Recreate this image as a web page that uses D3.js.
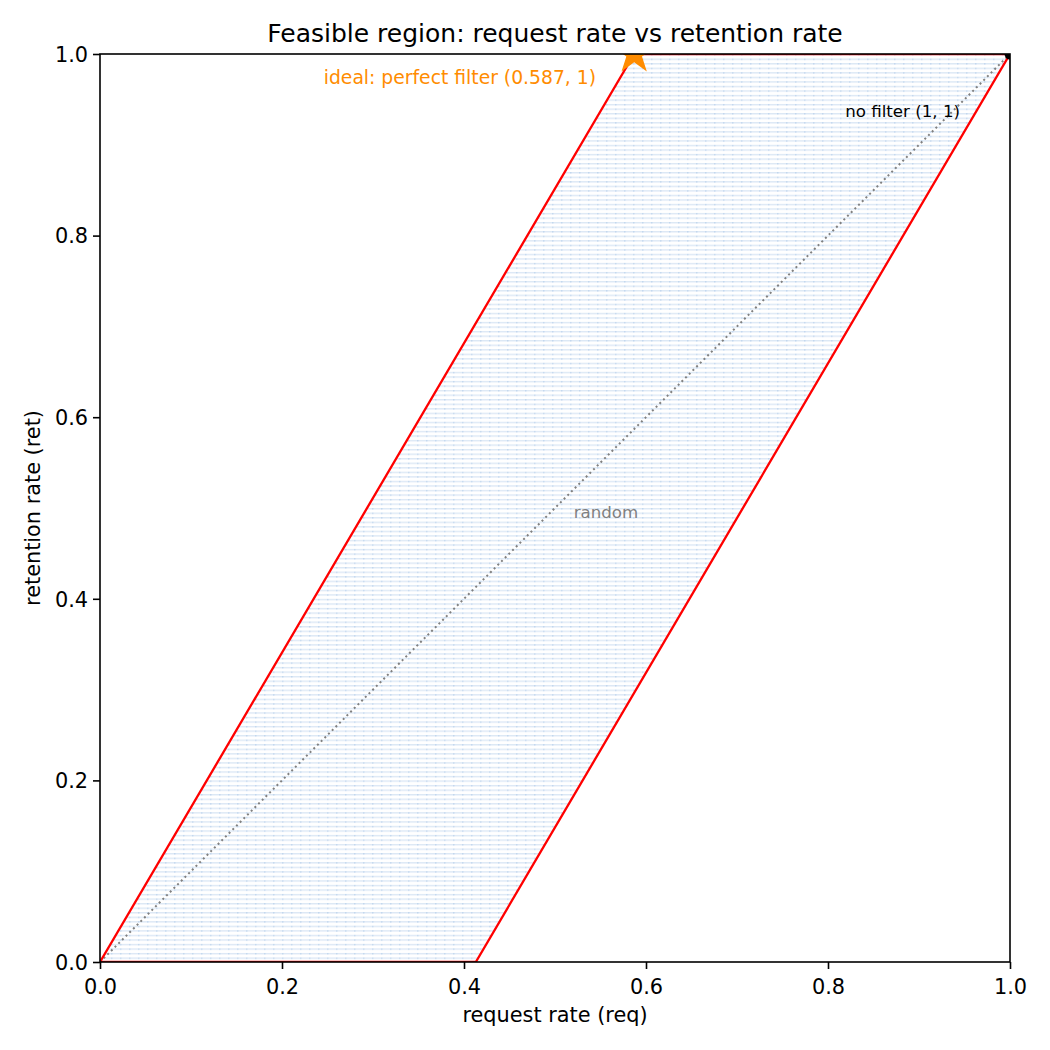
<!DOCTYPE html>
<html>
<head>
<meta charset="utf-8">
<script src="https://cdn.jsdelivr.net/npm/d3@7"></script>
<style>
  body { margin: 0; background: #fff; }
  svg { font-family: "DejaVu Sans", sans-serif; }
</style>
</head>
<body>
<svg width="1050" height="1050"></svg>
<script>
// feasible region boundary (req, ret)
var regionReq = [0, 0.587, 1, 0.413];
var regionRet = [0, 1, 1, 0];
var idealPoint = [0.587, 1];
var noFilterPoint = [1, 1];
var randomLine = [[0, 0], [1, 1]];
var tickValues = [0.0, 0.2, 0.4, 0.6, 0.8, 1.0];

var svg = d3.select("svg");
var plotLeft = 100, plotRight = 1010, plotTop = 54, plotBottom = 962;

var x = d3.scaleLinear().domain([0, 1]).range([plotLeft, plotRight]);
var y = d3.scaleLinear().domain([0, 1]).range([plotBottom, plotTop]);

var defs = svg.append("defs");
defs.append("clipPath").attr("id", "plotclip")
  .append("rect").attr("x", plotLeft).attr("y", plotTop)
  .attr("width", plotRight - plotLeft).attr("height", plotBottom - plotTop);

// light blue striped texture for the region
var pat = defs.append("pattern").attr("id", "stripes")
  .attr("patternUnits", "userSpaceOnUse")
  .attr("width", 9).attr("height", 4.54)
  .attr("y", plotBottom);
pat.append("rect").attr("x", 0).attr("y", 0).attr("width", 9).attr("height", 1.4)
  .attr("fill", "#dce8f5");
pat.append("rect").attr("x", 3).attr("y", 0).attr("width", 1.5).attr("height", 1.4)
  .attr("fill", "#c2d7ee");

var plot = svg.append("g").attr("clip-path", "url(#plotclip)");

var pts = regionReq.map(function(d, i) { return [x(d), y(regionRet[i])]; });
var ptsStr = pts.map(function(p) { return p.join(","); }).join(" ");

plot.append("polygon")
  .attr("points", ptsStr)
  .attr("fill", "url(#stripes)")
  .attr("stroke", "none");

// random diagonal
plot.append("line")
  .attr("x1", x(randomLine[0][0])).attr("y1", y(randomLine[0][1]))
  .attr("x2", x(randomLine[1][0])).attr("y2", y(randomLine[1][1]))
  .attr("stroke", "#808080").attr("stroke-width", 2)
  .attr("stroke-dasharray", "2,3.2");

// region boundary
plot.append("polygon")
  .attr("points", ptsStr)
  .attr("fill", "none")
  .attr("stroke", "#ff0000").attr("stroke-width", 2.3);

// ideal star
plot.append("path")
  .attr("d", d3.symbol().type(d3.symbolStar).size(520)())
  .attr("transform", "translate(" + x(idealPoint[0]) + "," + y(idealPoint[1]) + ")")
  .attr("fill", "#ff8c00");

// no filter point
plot.append("circle")
  .attr("cx", x(noFilterPoint[0])).attr("cy", y(noFilterPoint[1]))
  .attr("r", 5.5).attr("fill", "#000");

// annotations
svg.append("text")
  .attr("x", 596).attr("y", 83.5)
  .attr("text-anchor", "end")
  .attr("font-size", 18.75).attr("fill", "#ff8c00")
  .text("ideal: perfect filter (" + idealPoint[0] + ", " + idealPoint[1] + ")");

svg.append("text")
  .attr("x", 960).attr("y", 117)
  .attr("text-anchor", "end")
  .attr("font-size", 16.67).attr("fill", "#000")
  .text("no filter (" + noFilterPoint[0] + ", " + noFilterPoint[1] + ")");

svg.append("text")
  .attr("x", 606).attr("y", 518)
  .attr("text-anchor", "middle")
  .attr("font-size", 16.67).attr("fill", "#808080")
  .text("random");

// axes
var fmt = d3.format(".1f");
var gx = svg.append("g").attr("transform", "translate(0," + plotBottom + ")")
  .call(d3.axisBottom(x).tickValues(tickValues).tickFormat(fmt).tickSize(7).tickPadding(5).tickSizeOuter(0));
var gy = svg.append("g").attr("transform", "translate(" + plotLeft + ",0)")
  .call(d3.axisLeft(y).tickValues(tickValues).tickFormat(fmt).tickSize(7).tickPadding(5).tickSizeOuter(0));

[gx, gy].forEach(function(g) {
  g.select(".domain").remove();
  g.selectAll("line").attr("stroke", "#000").attr("stroke-width", 1.6);
  g.selectAll("text").attr("font-size", 20.83).attr("fill", "#000")
    .attr("font-family", "DejaVu Sans, sans-serif");
});
gx.selectAll("text").attr("dy", "0.95em");
gy.selectAll("text").attr("dy", "0.35em");

// frame
svg.append("rect")
  .attr("x", plotLeft).attr("y", plotTop)
  .attr("width", plotRight - plotLeft).attr("height", plotBottom - plotTop)
  .attr("fill", "none").attr("stroke", "#000").attr("stroke-width", 1.6);

// labels and title
svg.append("text")
  .attr("x", (plotLeft + plotRight) / 2).attr("y", 1022)
  .attr("text-anchor", "middle").attr("font-size", 20.83)
  .text("request rate (req)");

svg.append("text")
  .attr("transform", "translate(40," + (plotTop + plotBottom) / 2 + ") rotate(-90)")
  .attr("text-anchor", "middle").attr("font-size", 20.83)
  .text("retention rate (ret)");

svg.append("text")
  .attr("x", (plotLeft + plotRight) / 2).attr("y", 42)
  .attr("text-anchor", "middle").attr("font-size", 25)
  .text("Feasible region: request rate vs retention rate");
</script>
</body>
</html>
